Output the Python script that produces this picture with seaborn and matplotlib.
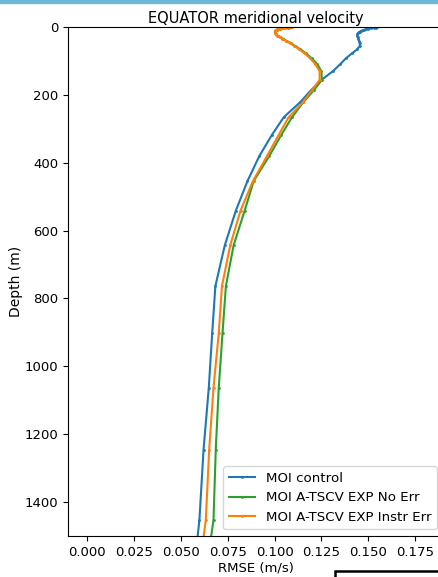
import numpy as np
import pandas as pd
import seaborn as sns
import matplotlib.pyplot as plt
from matplotlib.patches import Rectangle

# model levels (m)
depth = [0.494, 1.541, 2.646, 3.819, 5.078, 6.441, 7.93, 9.573, 11.405, 13.467,
         15.81, 18.496, 21.599, 25.211, 29.445, 34.434, 40.344, 47.374, 55.764,
         65.807, 77.854, 92.326, 109.729, 130.666, 155.851, 186.126, 222.475,
         266.04, 318.127, 380.213, 453.938, 541.089, 643.567, 763.333, 902.339,
         1062.44, 1245.291, 1452.251, 1684.284]

rmse_control = [0.1547, 0.1540, 0.1528, 0.1515, 0.1500, 0.1488, 0.1478, 0.1470,
                0.1462, 0.1455, 0.1448, 0.1443, 0.1441, 0.1441, 0.1443, 0.1447,
                0.1450, 0.1453, 0.1455, 0.1440, 0.1412, 0.1380, 0.1350, 0.1310,
                0.1250, 0.1195, 0.1135, 0.1049, 0.0986, 0.0919, 0.0856, 0.0794,
                0.0735, 0.0685, 0.0668, 0.0650, 0.0622, 0.0600, 0.0555]

rmse_no_err = [0.1090, 0.1072, 0.1055, 0.1040, 0.1028, 0.1018, 0.1011, 0.1006,
               0.1003, 0.1002, 0.1002, 0.1004, 0.1009, 0.1017, 0.1030, 0.1045,
               0.1063, 0.1086, 0.1110, 0.1138, 0.1168, 0.1198, 0.1228, 0.1250,
               0.1252, 0.1210, 0.1152, 0.1093, 0.1036, 0.0972, 0.0889, 0.0841,
               0.0782, 0.0741, 0.0723, 0.0703, 0.0687, 0.0675, 0.0615]

rmse_instr_err = [0.1093, 0.1075, 0.1058, 0.1042, 0.1030, 0.1020, 0.1013, 0.1008,
                  0.1005, 0.1003, 0.1003, 0.1004, 0.1008, 0.1015, 0.1028, 0.1042,
                  0.1060, 0.1082, 0.1105, 0.1132, 0.1160, 0.1190, 0.1218, 0.1240,
                  0.1240, 0.1200, 0.1150, 0.1075, 0.1022, 0.0960, 0.0885, 0.0819,
                  0.0764, 0.0720, 0.0703, 0.0675, 0.0652, 0.0634, 0.0580]

series = [
    ("MOI control", rmse_control, "C0"),
    ("MOI A-TSCV EXP No Err", rmse_no_err, "C2"),
    ("MOI A-TSCV EXP Instr Err", rmse_instr_err, "C1"),
]

plt.rcParams['font.size'] = 9.5

fig = plt.figure(figsize=(4.39, 5.77), dpi=100)
ax = fig.add_axes([68 / 439, 41 / 577, 375.5 / 439, 509 / 577])

for name, vals, col in series:
    df = pd.DataFrame({"rmse": vals, "depth": depth})
    sns.lineplot(data=df, x="rmse", y="depth", sort=False, estimator=None,
                 marker=".", markersize=4, markeredgewidth=0, color=col,
                 linewidth=1.5, label=name, ax=ax)

ax.set_xlim(-0.01, 0.19)
ax.set_ylim(1500, 0)
ax.set_xticks(np.arange(0, 0.176, 0.025))
ax.set_yticks(np.arange(0, 1401, 200))
ax.set_xlabel("RMSE (m/s)", labelpad=2)
ax.set_ylabel("Depth (m)", fontsize=10, labelpad=1)
ax.set_title("EQUATOR meridional velocity", fontsize=10.5, pad=3)
ax.legend(loc="lower right", fontsize=9.6)

# screenshot frame bits
fig.patches.append(Rectangle((0, 1 - 3 / 577), 1, 3 / 577, transform=fig.transFigure,
                             color="#6fb7d9", zorder=0))
fig.patches.append(Rectangle((335 / 439, -0.02), 0.3, 6 / 577 + 0.02,
                             transform=fig.transFigure, fill=False,
                             edgecolor="black", linewidth=1.8))

fig.savefig("out.png", dpi=100)
